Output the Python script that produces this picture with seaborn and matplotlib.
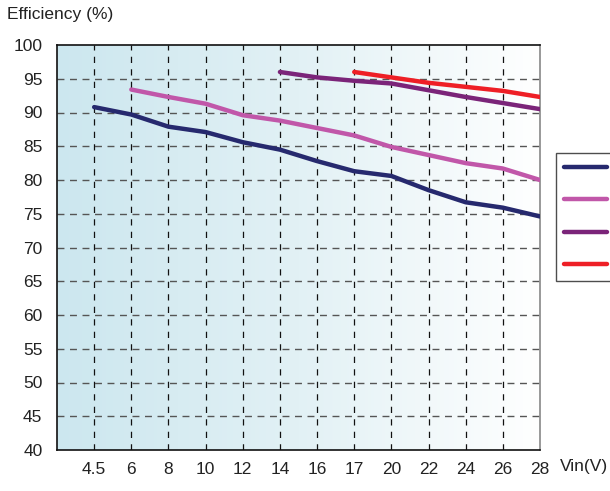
import numpy as np
import pandas as pd
import matplotlib
matplotlib.use("Agg")
import matplotlib.pyplot as plt
import seaborn as sns
from matplotlib.colors import LinearSegmentedColormap

# ---- data ----
vin_labels = ["4.5", "6", "8", "10", "12", "14", "16", "17", "20", "22", "24", "26", "28"]
series_names = ["Vout=3.3V", "Vout=5V", "Vout=12V", "Vout=15V"]
s1 = [90.8, 89.7, 87.9, 87.1, 85.6, 84.5, 82.8, 81.3, 80.6, 78.5, 76.7, 75.9, 74.6]
s2 = [None, 93.4, 92.3, 91.3, 89.6, 88.8, 87.7, 86.6, 84.9, 83.7, 82.5, 81.7, 80.0]
s3 = [None, None, None, None, None, 96.0, 95.2, 94.7, 94.3, 93.3, 92.3, 91.4, 90.5]
s4 = [None, None, None, None, None, None, None, 96.0, 95.2, 94.4, 93.8, 93.2, 92.3]
colors = ["#26296e", "#c157a9", "#7b2479", "#ee1f26"]

rows = []
for name, vals in zip(series_names, [s1, s2, s3, s4]):
    for i, (lab, v) in enumerate(zip(vin_labels, vals)):
        if v is not None:
            rows.append({"pos": i + 1, "vin": lab, "eff": v, "series": name})
df = pd.DataFrame(rows)

sns.set_theme(style="white")
plt.rcParams["font.family"] = ["Liberation Sans", "DejaVu Sans"]

fig = plt.figure(figsize=(6.10, 4.91), dpi=100)
ax = fig.add_axes([57/610, 1-450/491, (540-57)/610, (450-45)/491])

# background gradient
cmap = LinearSegmentedColormap.from_list("bg", ["#cce7ef", "#e2f1f5", "#ffffff"])
grad = np.linspace(0, 1, 256).reshape(1, -1)
ax.imshow(grad, extent=[0, 13, 40, 100], aspect="auto", cmap=cmap, zorder=0,
          interpolation="bilinear")

sns.lineplot(data=df, x="pos", y="eff", hue="series", palette=colors,
             hue_order=series_names, linewidth=3.2, ax=ax, zorder=3,
             legend=True)
for ln in ax.get_lines():
    ln.set_solid_capstyle("round")

ax.set_xlim(0, 13)
ax.set_ylim(40, 100)
ax.set_xticks(range(1, 14))
ax.set_xticklabels(vin_labels)
ax.set_yticks(range(40, 101, 5))
ax.tick_params(axis="both", length=0, labelsize=12.5, colors="#222222")
ax.tick_params(axis="x", pad=9)
ax.tick_params(axis="y", pad=10.5)
ax.set_xlabel("")
ax.set_ylabel("")

for x in range(1, 13):
    ax.axvline(x, color="#111111", lw=0.9, ls=(0, (5, 5)), zorder=1)
for y in range(45, 100, 5):
    ax.axhline(y, color="#555555", lw=1.0, ls=(0, (5, 4)), zorder=1)

for side in ["left", "bottom", "top"]:
    ax.spines[side].set_color("#111111")
    ax.spines[side].set_linewidth(1.2)
ax.spines["right"].set_color("#888888")
ax.spines["right"].set_linewidth(1.2)

fig.text(7/610, 1-15/491, "Efficiency (%)", fontsize=12.5, color="#222222", va="center")
fig.text(560/610, 1-467/491, "Vin(V)", fontsize=12.5, color="#222222", va="center")

h, l = ax.get_legend_handles_labels()
ax.get_legend().remove()
leg = fig.legend(h, l, loc="upper left", bbox_to_anchor=(556/610, 1-153/491),
                 frameon=True, fontsize=12.5, handlelength=2.5, labelspacing=1.0,
                 borderpad=0.45, handletextpad=0.25, borderaxespad=0,
                 fancybox=False)
leg.get_frame().set_edgecolor("#222222")
leg.get_frame().set_linewidth(1.0)
for ln in leg.get_lines():
    ln.set_linewidth(3.2)
    ln.set_solid_capstyle("round")

fig.canvas.draw()
# fine-tune legend vertical padding to reference box
fig.savefig("out.png", dpi=100)
